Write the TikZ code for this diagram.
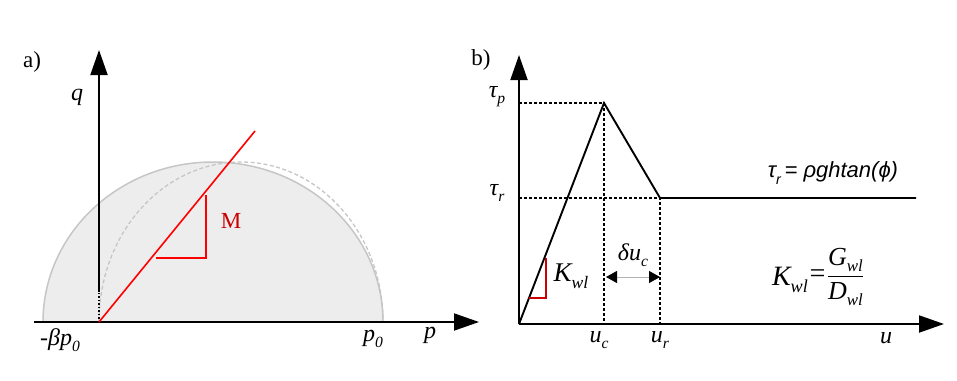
\documentclass[tikz,border=0pt]{standalone}
\usepackage{fontspec}
\setmainfont{Liberation Serif}
\newfontfamily\sansit{Liberation Sans}
\usetikzlibrary{arrows.meta}
\newcommand\lsub[1]{\raisebox{-0.55ex}{\scalebox{0.65}{#1}}}
\begin{document}
\begin{tikzpicture}[x=1pt,y=-1pt,
  axis/.style={line width=1.9pt,-{Triangle[length=25pt,width=17pt]}},
  lab/.style={font=\fontsize{24}{26}\selectfont\itshape,inner sep=0pt},
  panel/.style={font=\fontsize{23}{25}\selectfont,inner sep=0pt},
  dashln/.style={dashed,dash pattern=on 3pt off 2pt,line width=1.5pt},
  curve/.style={line width=1.9pt}]
\useasboundingbox (0,0) rectangle (957,380);
% ---------- panel a ----------
\node[panel] (pa) at (32,62) {a)};
\fill[gray!14] (43,322) arc[start angle=180,end angle=360,x radius=170,y radius=160] -- cycle;
\draw[gray!45,line width=1.5pt] (43,322) arc[start angle=180,end angle=360,x radius=170,y radius=160];
\draw[gray!45,dashed,dash pattern=on 4pt off 2.5pt,line width=1.3pt] (99,322) arc[start angle=180,end angle=360,x radius=142,y radius=160];
\coordinate (ao) at (99,322);
\coordinate (aq) at (99,50);
\coordinate (pl) at (34,322);
\coordinate (pr) at (479,322);
\draw[dotted,line width=1.5pt] (ao) -- (99,292);
\draw[axis] (99,292) -- (aq);
\draw[axis] (pl) -- (pr);
\coordinate (mend) at (255,131);
\draw[red,line width=1.6pt] (ao) -- (mend);
\draw[red,line width=1.4pt] (156,258) -- (206,258) -- (206,195);
\node[panel,text=red!80!black] (M) at (231,221) {M};
\node[lab] (q) at (77,97) {q};
\node[lab] (mb) at (60,340) {-\textit{βp}\lsub{0}};
\node[lab] (p0) at (373,339) {p\lsub{0}};
\node[lab] (p) at (430,335) {p};
% ---------- panel b ----------
\node[panel] (pb) at (481,60) {b)};
\coordinate (bo) at (519,324);
\coordinate (bq) at (519,55);
\coordinate (bu) at (944,324);
\coordinate (pk) at (604,103);
\coordinate (rs) at (660,198);
\coordinate (re) at (916,198);
\draw[dashln] (519,103) -- (pk) -- (604,324);
\draw[dashln] (519,198) -- (rs) -- (660,324);
\draw[axis] (bo) -- (bq);
\draw[axis] (bo) -- (bu);
\draw[curve,line join=miter] (bo) -- (pk) -- (rs) -- (re);
\draw[red!80!black,line width=1.4pt] (546,258) -- (546,298) -- (529,298);
\node[lab] (tp) at (497,97) {τ\lsub{p}};
\node[lab] (tr) at (497,193) {τ\lsub{r}};
\node[lab] (uc) at (599,340) {u\lsub{c}};
\node[lab] (ur) at (660,340) {u\lsub{r}};
\node[lab] (u) at (886,338) {u};
\node[lab,font=\fontsize{27}{29}\selectfont\itshape] (kw) at (571,276) {K\lsub{wl}};
\node[lab] (du) at (633,255) {δu\lsub{c}};
\coordinate (da) at (606,277);
\coordinate (db) at (660,277);
\draw[gray!60,line width=0.8pt,{Triangle[length=11pt,width=12pt,black]}-{Triangle[length=11pt,width=12pt,black]}] (da) -- (db);
\node[inner sep=0pt,font=\sansit\fontsize{22}{24}\selectfont\itshape] (tf) at (833,173) {τ\lsub{r}\,= ρghtan(ϕ)};
\node[lab,font=\fontsize{28}{30}\selectfont\itshape] (kf) at (818,277) {K\lsub{wl}\raisebox{0.2ex}{=}\raisebox{0.25ex}{$\displaystyle\frac{\hbox{\fontsize{26}{28}\selectfont\itshape G\lsub{wl}}}{\hbox{\fontsize{26}{28}\selectfont\itshape D\lsub{wl}}}$}};
\end{tikzpicture}
\end{document}
